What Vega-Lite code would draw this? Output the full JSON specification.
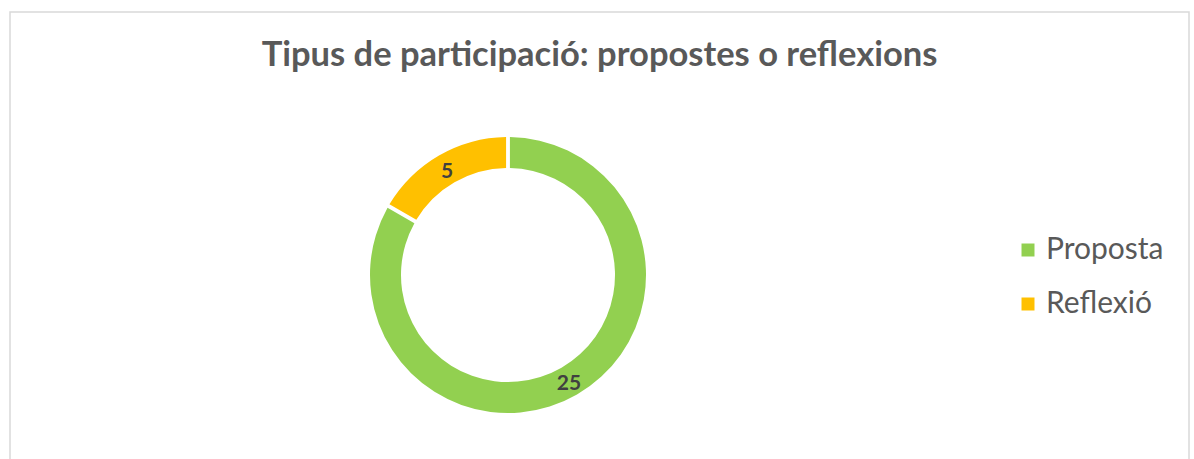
{
  "$schema": "https://vega.github.io/schema/vega-lite/v6.json",
  "autosize": {"type": "fit", "contains": "padding"},
  "width": 1194,
  "height": 459,
  "padding": {"left": 10, "top": 12, "right": 5, "bottom": -3},
  "background": "white",
  "view": {"stroke": "#d9d9d9", "strokeWidth": 1.5},
  "title": {
    "text": "Tipus de participació: propostes o reflexions",
    "font": "Lato",
    "fontSize": 34.5,
    "fontWeight": "bold",
    "color": "#595959",
    "anchor": "middle",
    "frame": "group",
    "baseline": "alphabetic",
    "offset": -88
  },
  "data": {
    "values": [
      {"tipus": "Proposta", "valor": 25},
      {"tipus": "Reflexió", "valor": 5}
    ]
  },
  "encoding": {
    "theta": {"field": "valor", "type": "quantitative", "stack": true},
    "order": {"field": "tipus", "sort": "ascending"},
    "color": {
      "field": "tipus",
      "type": "nominal",
      "scale": {"domain": ["Proposta", "Reflexió"], "range": ["#92d050", "#ffc000"]},
      "legend": {
        "title": null,
        "orient": "none",
        "legendX": 1003,
        "legendY": 223,
        "padding": 0,
        "symbolType": "square",
        "symbolSize": 169,
        "symbolStrokeWidth": 0,
        "labelFont": "Lato",
        "labelFontSize": 30,
        "labelColor": "#595959",
        "labelOffset": 3,
        "rowPadding": 24
      }
    }
  },
  "layer": [
    {
      "mark": {"type": "arc", "x": 498, "y": 263, "outerRadius": 138, "innerRadius": 107, "padAngle": 0.022}
    },
    {
      "mark": {"type": "text", "x": 498, "y": 263, "radius": 122, "dy": 3, "font": "Lato", "fontSize": 21, "fontWeight": "bold"},
      "encoding": {
        "text": {"field": "valor", "type": "quantitative"},
        "detail": {"field": "tipus", "type": "nominal"},
        "color": {"value": "#404040"}
      }
    }
  ]
}
